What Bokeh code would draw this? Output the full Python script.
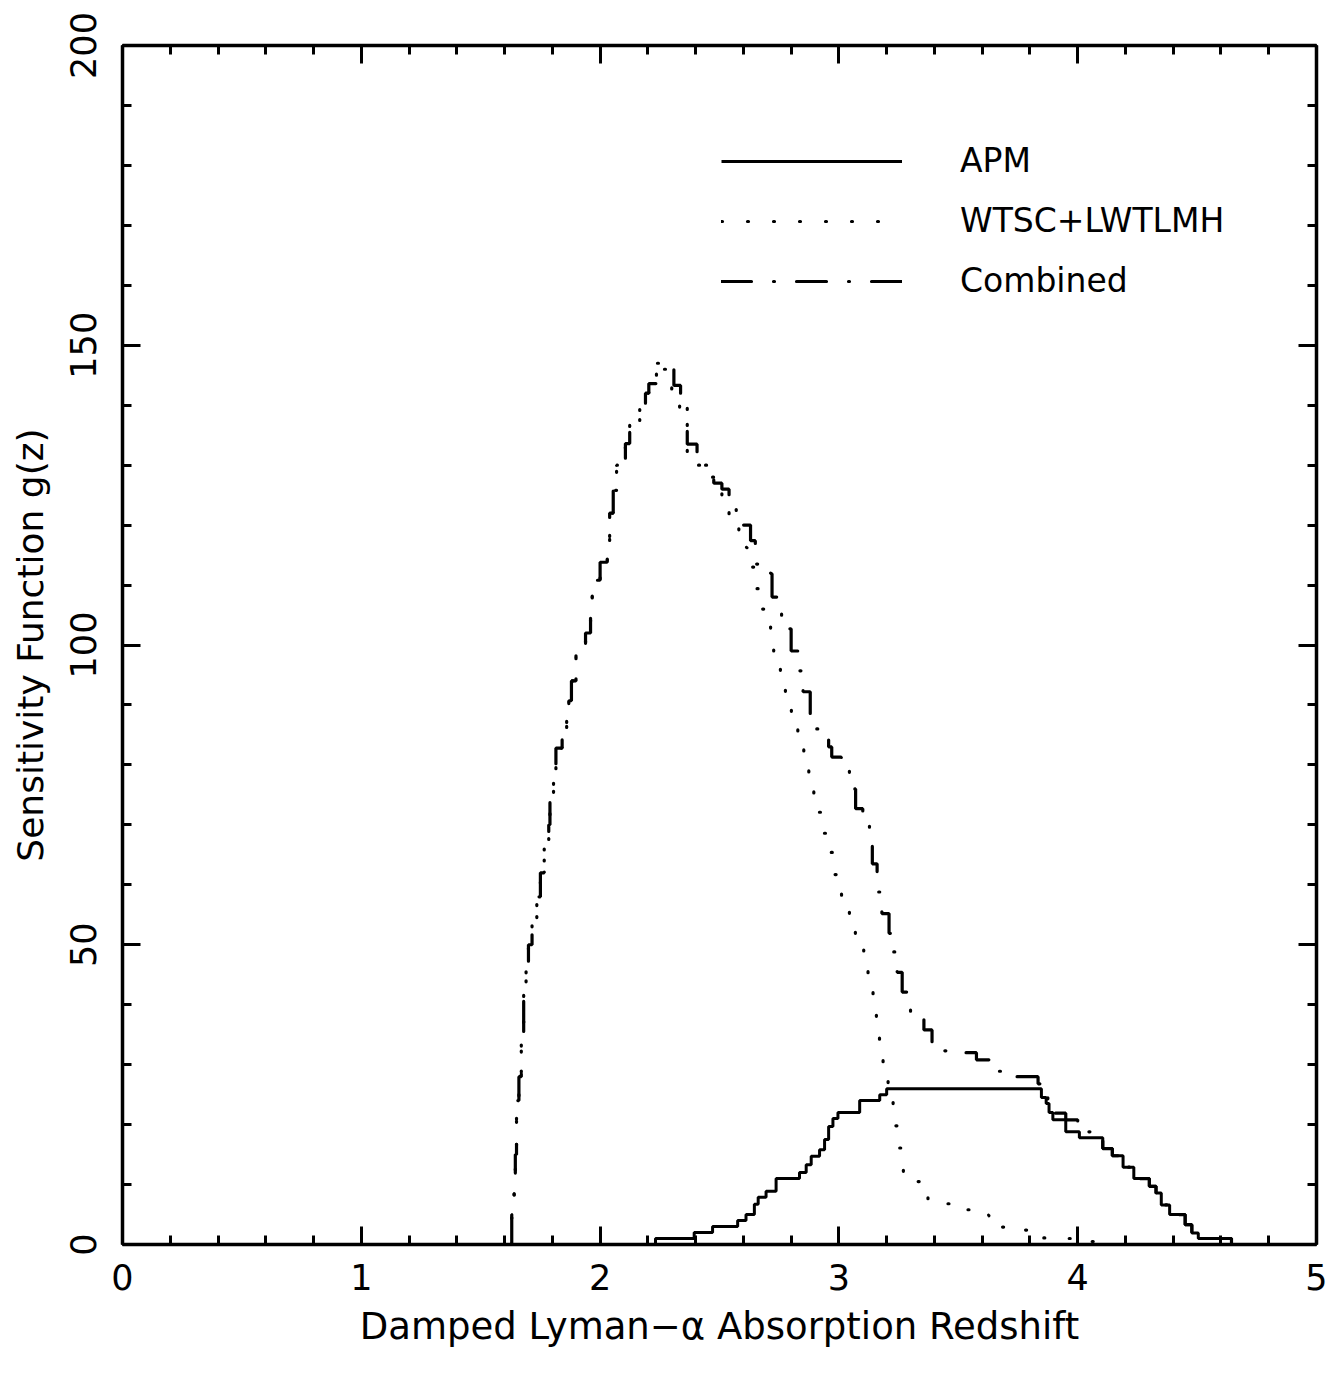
from bokeh.plotting import figure
from bokeh.models import (Range1d, FixedTicker, LinearAxis, Legend, LegendItem,
                          CustomLabelingPolicy)
from bokeh.embed import file_html
from bokeh.resources import INLINE

# ---- data ----
apm_z = [2.232, 2.232, 2.394, 2.471, 2.576, 2.611, 2.646, 2.662, 2.695, 2.737,
         2.835, 2.863, 2.884, 2.919, 2.940, 2.957, 2.975, 2.996, 3.087, 3.171,
         3.200, 3.848, 3.868, 3.880, 3.896, 3.950, 4.007, 4.105, 4.145, 4.190,
         4.235, 4.300, 4.328, 4.350, 4.385, 4.450, 4.478, 4.505, 4.644]
apm_g = [0, 1, 2, 3, 4, 5, 6.7, 7.9, 8.9, 11,
         12, 13.3, 14.7, 15.8, 17.5, 19.7, 21, 22, 24, 25,
         26, 24.5, 23.5, 22, 20.8, 18.8, 17.8, 16, 14.8, 12.9,
         11, 9.7, 8.6, 6.6, 5, 3.3, 1.9, 1, 0]

wtsc_z = [1.630, 1.630, 1.640, 1.645, 1.650, 1.660, 1.670, 1.680, 1.690, 1.700,
          1.715, 1.735, 1.750, 1.766, 1.785, 1.790, 1.805, 1.815, 1.841, 1.860,
          1.869, 1.880, 1.899, 1.939, 1.960, 1.967, 2.000, 2.030, 2.040, 2.055,
          2.069, 2.106, 2.124, 2.166, 2.190, 2.204, 2.236, 2.250, 2.274, 2.300,
          2.333, 2.365, 2.406, 2.440, 2.476, 2.510, 2.540, 2.581, 2.615, 2.647,
          2.679, 2.714, 2.727, 2.755, 2.776, 2.801, 2.828, 2.853, 2.874, 2.895,
          2.923, 2.962, 2.983, 3.011, 3.044, 3.069, 3.104, 3.122, 3.143, 3.157,
          3.170, 3.185, 3.206, 3.227, 3.250, 3.270, 3.310, 3.340, 3.373, 3.467,
          3.560, 3.628, 3.737, 3.806, 3.930, 4.040, 4.100]
wtsc_g = [0, 5, 10, 15, 24, 28, 35, 42, 47, 50,
          54, 58, 62, 66, 70, 75, 78.6, 82.8, 85, 88,
          90.7, 94, 99, 102, 106, 110.8, 113.8, 117.4, 122, 125.8,
          130, 133.6, 137.2, 140, 142, 143.6, 147, 146, 145, 142.4,
          139, 132, 130, 128, 125.5, 123, 121, 116.3, 113, 109.4,
          106, 102.7, 98.4, 94.9, 90.9, 87.3, 83.7, 79.9, 76, 72.1,
          68.6, 65.4, 61.7, 57.9, 54.6, 51, 47.6, 43.6, 39.8, 35.7,
          31.6, 27.5, 23.9, 19.8, 16.1, 12.1, 10.5, 10.1, 6.8, 5.8,
          4.9, 2.9, 2.4, 1.1, 1.0, 0.5, 0]

comb_z = [1.630, 1.630, 1.640, 1.645, 1.650, 1.660, 1.670, 1.680, 1.690, 1.700,
          1.715, 1.735, 1.750, 1.766, 1.785, 1.790, 1.805, 1.815, 1.841, 1.860,
          1.869, 1.880, 1.899, 1.939, 1.960, 1.967, 2.000, 2.030, 2.040, 2.055,
          2.069, 2.106, 2.124, 2.166, 2.190, 2.204,
          2.236, 2.274, 2.309, 2.337, 2.365, 2.406, 2.430, 2.476, 2.510, 2.540,
          2.570, 2.600, 2.630, 2.650, 2.690, 2.714, 2.720, 2.740, 2.760, 2.800,
          2.830, 2.850, 2.880, 2.890, 2.915, 2.957, 2.970, 3.010, 3.044, 3.070,
          3.100, 3.128, 3.140, 3.160, 3.180, 3.210, 3.220, 3.244, 3.265, 3.300,
          3.356, 3.390, 3.510, 3.576, 3.640, 3.745, 3.834, 3.860, 3.875, 3.950,
          4.000, 4.010, 4.105, 4.145, 4.190, 4.235, 4.300, 4.328, 4.350, 4.385,
          4.450, 4.478, 4.505, 4.644]
comb_g = [0, 5, 10, 15, 24, 28, 35, 42, 47, 50,
          54, 58, 62, 66, 70, 75, 78.6, 82.8, 85, 88,
          90.7, 94, 99, 102, 106, 110.8, 113.8, 117.4, 122, 125.8,
          130, 133.6, 137.2, 140, 142, 143.6,
          147, 146.3, 143.3, 140, 133.5, 132, 130, 127, 126, 125,
          122, 120, 117.4, 113.5, 112.5, 111.9, 108, 105.4, 102.7, 99,
          95.7, 92.2, 88, 86, 84.6, 83, 81.3, 79, 76, 72.7,
          70.7, 67.1, 63.5, 58.8, 55.2, 51.9, 48.8, 45.4, 42.1, 37.9,
          35.8, 32.3, 32, 30.8, 28.9, 28, 26.8, 25, 21.9, 20.8,
          19.7, 18.8, 16, 14.8, 12.9, 11, 9.7, 8.6, 6.6, 5,
          3.3, 1.9, 1, 0]

x_major = [0, 1, 2, 3, 4, 5]
y_major = [0, 50, 100, 150, 200]
series_labels = ["APM", "WTSC+LWTLMH", "Combined"]
x_label = "Damped Lyman\u2212\u03b1 Absorption Redshift"
y_label = "Sensitivity Function g(z)"

FONT = "DejaVu Sans"

x_minor = [round(i * 0.2, 2) for i in range(0, 26)]
y_minor = list(range(0, 201, 10))

p = figure(width=1333, height=1372, output_backend="svg", toolbar_location=None,
           x_range=Range1d(0, 5), y_range=Range1d(0, 200),
           min_border_left=122, min_border_right=17, min_border_top=45,
           min_border_bottom=128, x_axis_label=x_label, y_axis_label=y_label)
p.grid.visible = False
p.outline_line_color = None
p.background_fill_color = "white"
p.border_fill_color = "white"

no_labels = CustomLabelingPolicy(code="return new Set()")


def style_axis(ax, ticks, minor, show_labels=True, vertical=False):
    ax.ticker = FixedTicker(ticks=ticks, minor_ticks=minor)
    ax.axis_line_width = 3.5
    ax.axis_line_color = "black"
    ax.major_tick_line_width = 3
    ax.minor_tick_line_width = 3
    ax.major_tick_in = 18
    ax.major_tick_out = 0
    ax.minor_tick_in = 9
    ax.minor_tick_out = 0
    ax.major_label_text_font = FONT
    ax.major_label_text_color = "black"
    if show_labels:
        ax.major_label_text_font_size = "35px"
    else:
        ax.major_label_text_font_size = "0px"
        ax.major_label_policy = no_labels
        ax.major_label_standoff = 0
    if vertical:
        ax.major_label_orientation = "vertical"


xa = p.xaxis[0]
ya = p.yaxis[0]
style_axis(xa, x_major, x_minor)
style_axis(ya, y_major, y_minor, vertical=True)
xa.major_label_standoff = 19
ya.major_label_standoff = 27
for ax in (xa, ya):
    ax.axis_label_text_font = FONT
    ax.axis_label_text_font_style = "normal"
    ax.axis_label_text_color = "black"
    ax.axis_label_text_font_size = "36px"
xa.axis_label_text_font_size = "37px"
xa.axis_label_standoff = 12
ya.axis_label_standoff = 16

top = LinearAxis()
right = LinearAxis()
style_axis(top, x_major, x_minor, show_labels=False)
style_axis(right, y_major, y_minor, show_labels=False)
p.add_layout(top, "above")
p.add_layout(right, "right")

r_apm = p.step(apm_z, apm_g, mode="after", line_color="black", line_width=3)
r_wtsc = p.step(wtsc_z, wtsc_g, mode="after", line_color="black", line_width=3.2,
                line_dash="1 25", line_cap="round")
r_comb = p.step(comb_z, comb_g, mode="after", line_color="black", line_width=3.2,
                line_dash="30 22 1 22", line_cap="round")

legend = Legend(items=[LegendItem(label=series_labels[0], renderers=[r_apm]),
                       LegendItem(label=series_labels[1], renderers=[r_wtsc]),
                       LegendItem(label=series_labels[2], renderers=[r_comb])],
                location=(599, 944), glyph_width=181, glyph_height=30,
                label_height=30, label_standoff=58, spacing=21, padding=0, margin=0,
                border_line_color=None, background_fill_alpha=0,
                label_text_font=FONT, label_text_font_size="33px",
                label_text_color="black", label_text_line_height=1.8)
p.add_layout(legend)

open("out.html", "w").write(file_html(p, INLINE))
